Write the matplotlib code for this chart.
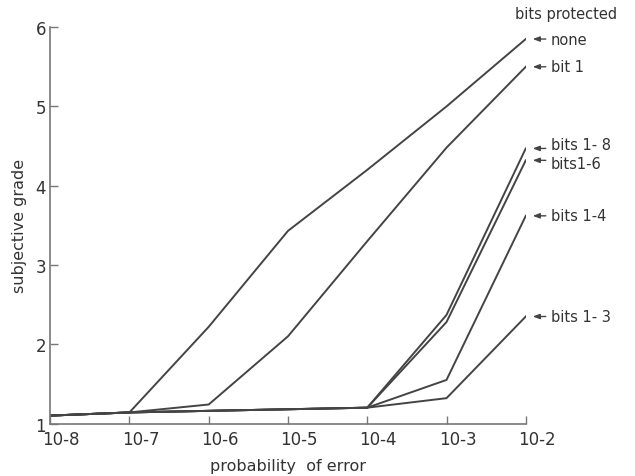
import matplotlib

matplotlib.use("Agg")
import matplotlib.pyplot as plt
import matplotlib.transforms as mtransforms

# probability of error (decades) and subjective grade per protection scheme
P_ERR = [1e-8, 1e-7, 1e-6, 1e-5, 1e-4, 1e-3, 1e-2]
NONE = [1.10, 1.14, 2.22, 3.43, 4.20, 5.00, 5.85]
BIT1 = [1.10, 1.14, 1.24, 2.10, 3.30, 4.48, 5.50]
BITS_1_8 = [1.10, 1.14, 1.16, 1.18, 1.20, 2.37, 4.47]
BITS_1_6 = [1.10, 1.14, 1.16, 1.18, 1.20, 2.28, 4.32]
BITS_1_4 = [1.10, 1.14, 1.16, 1.18, 1.20, 1.55, 3.62]
BITS_1_3 = [1.10, 1.14, 1.16, 1.18, 1.20, 1.32, 2.35]

SERIES = [("none", NONE), ("bit 1", BIT1), ("bits 1- 8", BITS_1_8),
          ("bits1-6", BITS_1_6), ("bits 1-4", BITS_1_4), ("bits 1- 3", BITS_1_3)]
X_TICKLABELS = ["10-8", "10-7", "10-6", "10-5", "10-4", "10-3", "10-2"]
Y_TICKS = [1, 2, 3, 4, 5, 6]

INK = "#444444"
TXT = "#333333"

fig = plt.figure(figsize=(6.35, 4.77), dpi=100)
ax = fig.add_axes([0.079, 0.110, 0.749, 0.831])

for name, vals in SERIES:
    ax.plot(P_ERR, vals, color=INK, lw=1.4, solid_joinstyle="miter")

ax.set_xscale("log")
ax.set_xlim(1e-8, 1e-2)
ax.set_ylim(1, 6)
ax.set_xticks(P_ERR)
ax.set_xticklabels(X_TICKLABELS)
ax.minorticks_off()
ax.set_yticks(Y_TICKS)
ax.set_yticklabels([str(v) for v in Y_TICKS])

for s in ("top", "right"):
    ax.spines[s].set_visible(False)
for s in ("left", "bottom"):
    ax.spines[s].set_color("#777777")
    ax.spines[s].set_linewidth(1.2)
ax.tick_params(direction="in", length=6, width=1.0, color="#777777",
               labelcolor=TXT, labelsize=12)
ax.tick_params(axis="x", pad=5)
ax.tick_params(axis="y", pad=3)

# tick labels in the original sit a little right of their ticks
off = mtransforms.ScaledTranslation(11 / 100, 0, fig.dpi_scale_trans)
for lab in ax.get_xticklabels():
    lab.set_transform(lab.get_transform() + off)

ax.set_xlabel("probability  of error", fontsize=11.5, color=TXT, labelpad=7)
ax.set_ylabel("subjective grade", fontsize=11.5, color=TXT, labelpad=6)

# right-hand legend: header, then small arrows pointing at each line end
fig.text(566 / 635, 1 - 14 / 477, "bits protected", fontsize=10.5,
         color=TXT, ha="center", va="center")
nudge = {"bits 1- 8": 4, "bits1-6": -3}   # px, keeps the two close labels apart
for name, vals in SERIES:
    y = vals[-1]
    ax.annotate("", xy=(1e-2, y), xytext=(20 * 0.72, 0), textcoords="offset points",
                arrowprops=dict(arrowstyle="-|>,head_length=0.4,head_width=0.15",
                                color=INK, lw=1.0, shrinkA=0, shrinkB=5),
                annotation_clip=False)
    ax.annotate(name, xy=(1e-2, y), xytext=(25 * 0.72, nudge.get(name, 0) * 0.72),
                textcoords="offset points", fontsize=10.5, color=TXT,
                ha="left", va="center", annotation_clip=False)

fig.savefig("out.png", dpi=100)
